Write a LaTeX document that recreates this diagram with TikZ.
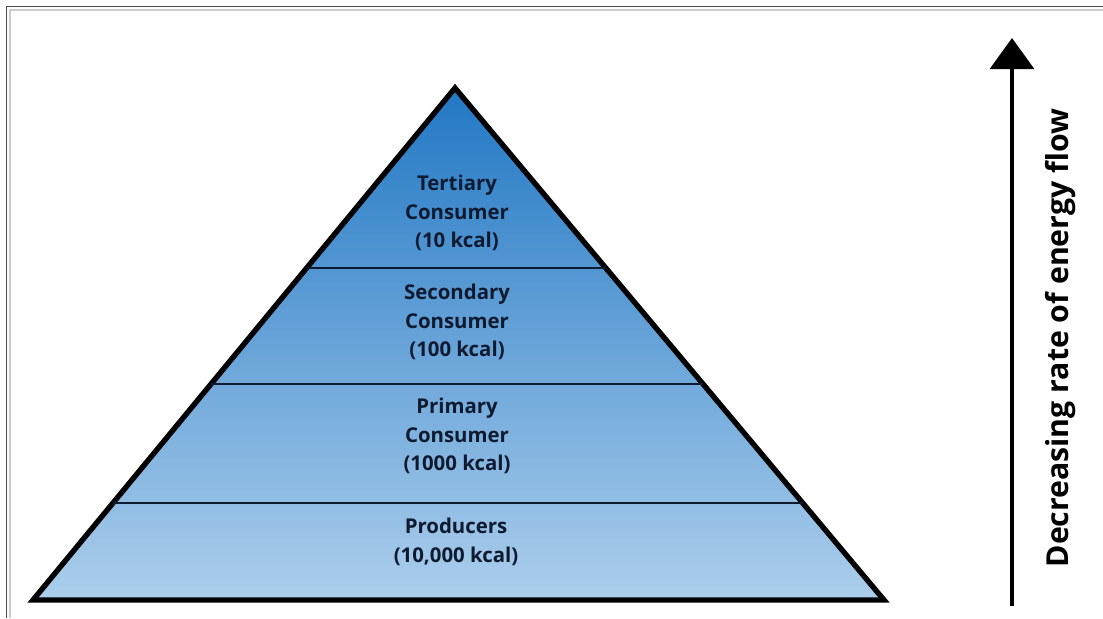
\documentclass[tikz,border=0pt]{standalone}
\usepackage{fontspec}
\setmainfont{Open Sans}
\usetikzlibrary{arrows.meta,calc}

\definecolor{tiertop}{RGB}{34,120,196}
\definecolor{tierbottom}{RGB}{172,206,236}
\definecolor{labelink}{RGB}{14,26,48}

\begin{document}
\begin{tikzpicture}
[
	x=0.025cm, y=-0.025cm,
% Pyramid outline style
	outline/.style={
		line width=3.8pt,
		line join=miter,
		shade,
		top color=tiertop,
		bottom color=tierbottom},
% Divider between levels
	divider/.style={
		line width=1.5pt,
		draw=labelink},
% Level label style
	level/.style={
		align=center,
		text=labelink,
		font=\fontsize{14.5}{20.5}\selectfont\bfseries},
% Flow arrow style
	flowarrow/.style={
		line width=2.8pt,
		-{Triangle[width=1.1cm,length=0.78cm]}},
]

% Frame and bounding box
\useasboundingbox (0,0) rectangle (1103,618);
\draw [black!70, line width=0.6pt] (6,618) -- (6,6) -- (1103,6);
\draw [black!20, line width=1pt] (10,618) -- (10,10) -- (1103,10);

% Pyramid corners
\coordinate (apex) at (455,88);
\coordinate (bl) at (33,600);
\coordinate (br) at (884,600);

\draw [outline] (bl) -- (apex) -- (br) -- cycle;

% Level dividers
\foreach \t in {0.3516, 0.578, 0.8105}
	\draw [divider] ($(apex)!\t!(bl)$) -- ($(apex)!\t!(br)$);

% Level labels
\node [level] (tertiary) at (457,213) {Tertiary\\Consumer\\(10 kcal)};
\node [level] (secondary) at (457,322) {Secondary\\Consumer\\(100 kcal)};
\node [level] (primary) at (457,436) {Primary\\Consumer\\(1000 kcal)};
\node [level] (producers) at (456,542) {Producers\\(10,000 kcal)};

% Energy flow arrow
\coordinate (flowstart) at (1012,606);
\coordinate (flowend) at (1012,38);
\draw [flowarrow] (flowstart) -- (flowend);
\node [rotate=90, font=\fontsize{21.5}{26}\selectfont\bfseries] (flowlabel)
	at (1061,338) {Decreasing rate of energy flow};

\end{tikzpicture}
\end{document}
